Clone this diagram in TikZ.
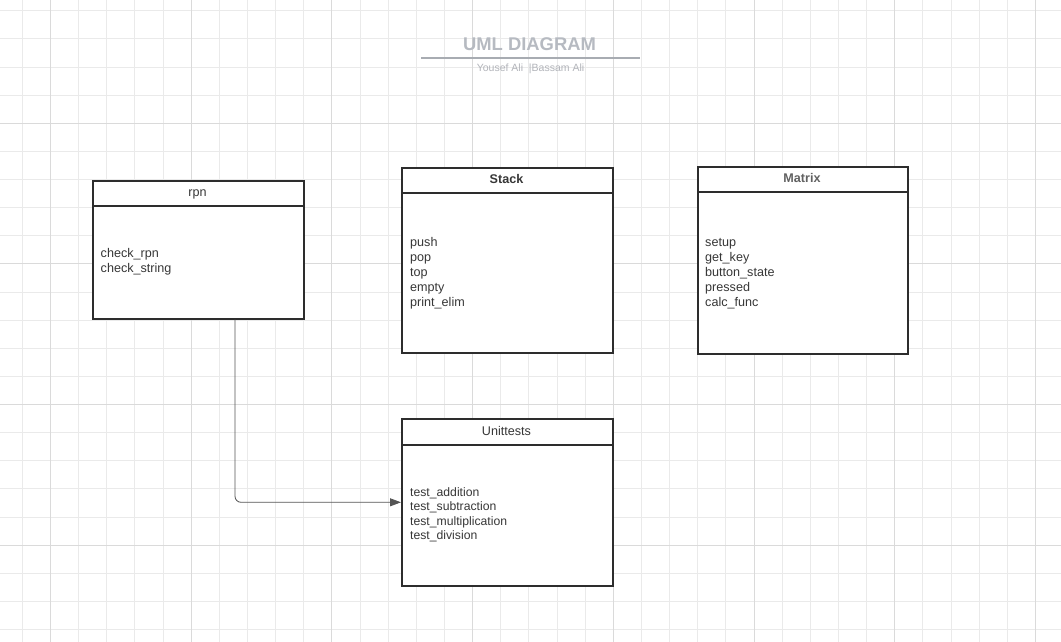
\documentclass[tikz,border=0pt]{standalone}
\usepackage{fontspec}
\setmainfont{Liberation Sans}
\usetikzlibrary{arrows.meta}
\definecolor{gridminor}{RGB}{234,234,234}
\definecolor{gridmajor}{RGB}{218,218,218}
\definecolor{boxline}{RGB}{45,45,45}
\definecolor{txt}{RGB}{55,55,55}
\definecolor{titlecol}{RGB}{182,186,193}
\definecolor{titleline}{RGB}{168,172,178}
\definecolor{subcol}{RGB}{178,180,186}
\definecolor{conncol}{RGB}{85,85,85}
\tikzset{
  umlbox/.style={draw=boxline, line width=1.6pt, fill=white, anchor=north west, inner sep=0pt, minimum width=211pt},
  hdrline/.style={draw=boxline, line width=1.6pt},
  hdr/.style={anchor=base, inner sep=0pt, text=txt, font=\fontsize{12.6}{15}\selectfont},
  hdrbold/.style={hdr, font=\fontsize{12.6}{15}\selectfont\bfseries},
  item/.style={anchor=base west, inner sep=0pt, text=txt, font=\fontsize{12.6}{15}\selectfont},
  smallitem/.style={item, font=\fontsize{12.2}{15}\selectfont},
  conn/.style={draw=conncol, line width=0.8pt, rounded corners=6pt, -{Triangle[length=11pt,width=8pt]}}
}
\begin{document}
\begin{tikzpicture}[x=1pt,y=-1pt]
\useasboundingbox (0,0) rectangle (1061,642);
\fill[white] (0,0) rectangle (1061,642);
% grid
\foreach \k in {-1,...,36} {
  \draw[gridminor, line width=0.9pt] ({50.5+28.14*\k},0) -- ({50.5+28.14*\k},642);
}
\foreach \k in {-4,...,18} {
  \draw[gridminor, line width=0.9pt] (0,{123.3+28.12*\k}) -- (1061,{123.3+28.12*\k});
}
\foreach \k in {0,...,7} {
  \draw[gridmajor, line width=1pt] ({50.5+140.7*\k},0) -- ({50.5+140.7*\k},642);
}
\foreach \k in {0,...,3} {
  \draw[gridmajor, line width=1pt] (0,{123.3+140.6*\k}) -- (1061,{123.3+140.6*\k});
}
% title
\node[anchor=base, inner sep=0pt, text=titlecol, font=\fontsize{18.4}{20}\selectfont\bfseries] (title) at (529.5,50.5) {UML DIAGRAM};
\draw[titleline, line width=1.8pt] (421,57.7) -- (640,57.7);
\node[anchor=base, inner sep=0pt, text=subcol, font=\fontsize{10.5}{12}\selectfont] (subtitle) at (530.5,71.8) {Yousef Ali\ \ |Bassam Ali};
% rpn
\node[umlbox, minimum height=138pt] (rpn) at (92,180) {};
\draw[hdrline] (rpn.north west) ++(0,26) -- ++(211,0);
\node[hdr] (rpn-h) at (197.5,196) {rpn};
\node[item] (rpn-1) at (100.5,257.5) {check\_rpn};
\node[item] (rpn-2) at (100.5,272.5) {check\_string};
% Stack
\node[umlbox, minimum height=185pt] (stack) at (401,167) {};
\draw[hdrline] (stack.north west) ++(0,26) -- ++(211,0);
\node[hdrbold] (stack-h) at (506.5,183.5) {Stack};
\foreach \t [count=\i] in {push,pop,top,empty,print\_elim} {
  \node[item] (stack-\i) at (410,{246+15*(\i-1)}) {\t};
}
% Matrix
\node[umlbox, minimum width=210pt, minimum height=187pt] (matrix) at (697,166) {};
\draw[hdrline] (matrix.north west) ++(0,26) -- ++(210,0);
\node[hdrbold, text=black!62] (matrix-h) at (802,182) {Matrix};
\foreach \t [count=\i] in {setup,get\_key,button\_state,pressed,calc\_func} {
  \node[item] (matrix-\i) at (705,{246+15*(\i-1)}) {\t};
}
% Unittests
\node[umlbox, minimum height=167pt] (unit) at (401,418) {};
\draw[hdrline] (unit.north west) ++(0,27) -- ++(211,0);
\node[hdr] (unit-h) at (506.5,435) {Unittests};
\foreach \t [count=\i] in {test\_addition,test\_subtraction,test\_multiplication,test\_division} {
  \node[smallitem] (unit-\i) at (410,{496+14.6*(\i-1)}) {\t};
}
% connector
\draw[conn] ([xshift=143pt]rpn.south west) |- (unit.west);
\end{tikzpicture}
\end{document}
